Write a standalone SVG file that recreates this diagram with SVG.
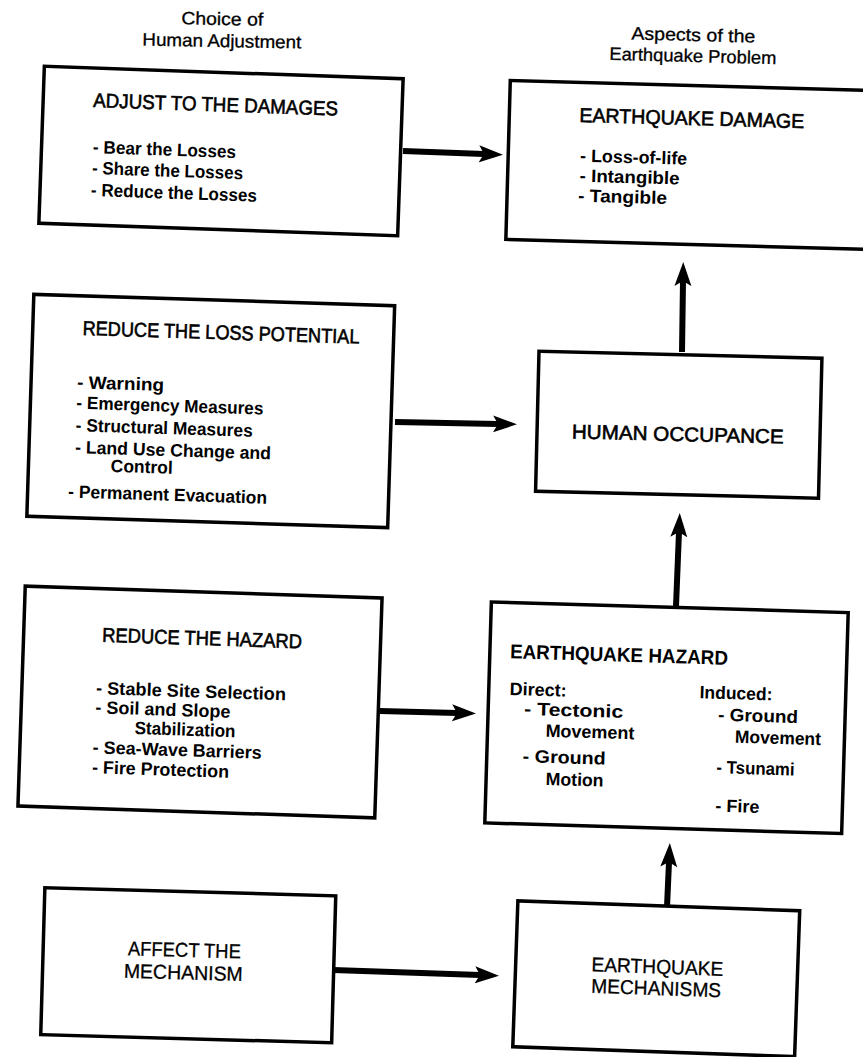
<svg xmlns="http://www.w3.org/2000/svg" width="863" height="1057" viewBox="0 0 863 1057">
<style>
.box{fill:#fff;stroke:#000;stroke-width:3.5}
text{font-family:'Liberation Sans',Arial,sans-serif;fill:#000}
.h{font-size:18px;stroke:#000;stroke-width:0.3}
.t{font-size:20px;stroke:#000;stroke-width:0.6}
.tl{font-size:20px;stroke:#000;stroke-width:0.3}
.tb{font-size:20px;font-weight:bold}
.i{font-size:18px;font-weight:bold}
.c{fill:none;stroke:#000;stroke-width:6}
</style>
<defs>
<marker id="ah" markerUnits="userSpaceOnUse" markerWidth="26" markerHeight="20" viewBox="0 -10 26 20" refX="5" refY="0" orient="auto">
<path d="M0,-8.5 L24,0 L0,8.5 L5,0 Z" fill="#000"/>
</marker>
</defs>
<rect width="863" height="1057" fill="#fff"/>

<g id="headers">
<g transform="rotate(1 222 35)">
<text class="h" x="222" y="25" text-anchor="middle" textLength="82" lengthAdjust="spacingAndGlyphs">Choice of</text>
<text class="h" x="222" y="47" text-anchor="middle" textLength="159" lengthAdjust="spacingAndGlyphs">Human Adjustment</text>
</g>
<g transform="rotate(1.5 693 50)">
<text class="h" x="693" y="41" text-anchor="middle" textLength="124" lengthAdjust="spacingAndGlyphs">Aspects of the</text>
<text class="h" x="693" y="62" text-anchor="middle" textLength="167" lengthAdjust="spacingAndGlyphs">Earthquake Problem</text>
</g>
</g>

<g id="connectors">
<line class="c" x1="403" y1="151" x2="484" y2="154" marker-end="url(#ah)"/>
<line class="c" x1="395" y1="422" x2="498" y2="424" marker-end="url(#ah)"/>
<line class="c" x1="380" y1="711" x2="457" y2="713" marker-end="url(#ah)"/>
<line class="c" x1="333" y1="970" x2="480" y2="975" marker-end="url(#ah)"/>
<line class="c" x1="682" y1="352" x2="683" y2="281" marker-end="url(#ah)"/>
<line class="c" x1="676" y1="606" x2="679" y2="532" marker-end="url(#ah)"/>
<line class="c" x1="667" y1="907" x2="669" y2="862" marker-end="url(#ah)"/>
</g>

<g id="adjust-damages" transform="rotate(2 221 151)">
<rect class="box" x="41.5" y="72.5" width="359" height="157"/>
<text class="t" x="91.5" y="111.5" textLength="245" lengthAdjust="spacingAndGlyphs">ADJUST TO THE DAMAGES</text>
<text class="i" x="93" y="157.5" textLength="143" lengthAdjust="spacingAndGlyphs">- Bear the Losses</text>
<text class="i" x="92.8" y="178.5" textLength="151" lengthAdjust="spacingAndGlyphs">- Share the Losses</text>
<text class="i" x="92.5" y="200.5" textLength="166" lengthAdjust="spacingAndGlyphs">- Reduce the Losses</text>
</g>

<g id="earthquake-damage" transform="rotate(1.6 690 165)">
<rect class="box" x="508" y="85.5" width="364" height="159"/>
<text class="t" x="578" y="125" textLength="225" lengthAdjust="spacingAndGlyphs">EARTHQUAKE DAMAGE</text>
<text class="i" x="580" y="164.8" textLength="107" lengthAdjust="spacingAndGlyphs">- Loss-of-life</text>
<text class="i" x="580" y="184.8" textLength="100" lengthAdjust="spacingAndGlyphs">- Intangible</text>
<text class="i" x="579" y="204.8" textLength="89" lengthAdjust="spacingAndGlyphs">- Tangible</text>
</g>

<g id="reduce-loss" transform="rotate(1.8 210.75 411)">
<rect class="box" x="30.25" y="300" width="361" height="222"/>
<text class="t" x="80.1" y="339" textLength="277" lengthAdjust="spacingAndGlyphs">REDUCE THE LOSS POTENTIAL</text>
<text class="i" x="76.3" y="392.5" textLength="87" lengthAdjust="spacingAndGlyphs">- Warning</text>
<text class="i" x="76.3" y="413" textLength="187" lengthAdjust="spacingAndGlyphs">- Emergency Measures</text>
<text class="i" x="76.3" y="435.5" textLength="177" lengthAdjust="spacingAndGlyphs">- Structural Measures</text>
<text class="i" x="76.3" y="457.5" textLength="196" lengthAdjust="spacingAndGlyphs">- Land Use Change and</text>
<text class="i" x="112.5" y="475" textLength="62" lengthAdjust="spacingAndGlyphs">Control</text>
<text class="i" x="70.8" y="502" textLength="199" lengthAdjust="spacingAndGlyphs">- Permanent Evacuation</text>
</g>

<g id="human-occupance" transform="rotate(1.4 678.75 424.75)">
<rect class="box" x="537.25" y="354.75" width="283" height="140"/>
<text class="t" x="678" y="441" text-anchor="middle" textLength="212" lengthAdjust="spacingAndGlyphs">HUMAN OCCUPANCE</text>
</g>

<g id="reduce-hazard" transform="rotate(1.9 200 702)">
<rect class="box" x="21.5" y="592" width="357" height="220"/>
<text class="t" x="100" y="645" textLength="200" lengthAdjust="spacingAndGlyphs">REDUCE THE HAZARD</text>
<text class="i" x="95.7" y="697.5" textLength="190" lengthAdjust="spacingAndGlyphs">- Stable Site Selection</text>
<text class="i" x="95.7" y="716.8" textLength="135" lengthAdjust="spacingAndGlyphs">- Soil and Slope</text>
<text class="i" x="135.5" y="736.1" textLength="101" lengthAdjust="spacingAndGlyphs">Stabilization</text>
<text class="i" x="94.3" y="756.8" textLength="169" lengthAdjust="spacingAndGlyphs">- Sea-Wave Barriers</text>
<text class="i" x="94.3" y="776.8" textLength="137" lengthAdjust="spacingAndGlyphs">- Fire Protection</text>
</g>

<g id="earthquake-hazard" transform="rotate(1.7 666.5 717.75)">
<rect class="box" x="488" y="607.25" width="357" height="221"/>
<text class="tb" x="508.2" y="663" textLength="218" lengthAdjust="spacingAndGlyphs">EARTHQUAKE HAZARD</text>
<text class="i" x="509" y="699.6" textLength="57" lengthAdjust="spacingAndGlyphs">Direct:</text>
<text class="i" x="524" y="719.2" textLength="99" lengthAdjust="spacingAndGlyphs">- Tectonic</text>
<text class="i" x="546" y="740.3" textLength="89" lengthAdjust="spacingAndGlyphs">Movement</text>
<text class="i" x="524" y="766.5" textLength="83" lengthAdjust="spacingAndGlyphs">- Ground</text>
<text class="i" x="547.5" y="788.5" textLength="58" lengthAdjust="spacingAndGlyphs">Motion</text>
<text class="i" x="698.8" y="697.3" textLength="73" lengthAdjust="spacingAndGlyphs">Induced:</text>
<text class="i" x="718" y="719.2" textLength="80" lengthAdjust="spacingAndGlyphs">- Ground</text>
<text class="i" x="735.5" y="740.6" textLength="86" lengthAdjust="spacingAndGlyphs">Movement</text>
<text class="i" x="718" y="771.8" textLength="78" lengthAdjust="spacingAndGlyphs">- Tsunami</text>
<text class="i" x="718" y="810.2" textLength="44" lengthAdjust="spacingAndGlyphs">- Fire</text>
</g>

<g id="affect-mechanism" transform="rotate(1.6 188.25 965.25)">
<rect class="box" x="42.75" y="891.75" width="291" height="147"/>
<text class="tl" x="184" y="957" text-anchor="middle" textLength="113" lengthAdjust="spacingAndGlyphs">AFFECT THE</text>
<text class="tl" x="183.5" y="979.5" text-anchor="middle" textLength="119" lengthAdjust="spacingAndGlyphs">MECHANISM</text>
</g>

<g id="earthquake-mechanisms" transform="rotate(2 656.25 978.75)">
<rect class="box" x="515.25" y="905.75" width="282" height="146"/>
<text class="tl" x="657" y="973.5" text-anchor="middle" textLength="132" lengthAdjust="spacingAndGlyphs">EARTHQUAKE</text>
<text class="tl" x="656.5" y="995" text-anchor="middle" textLength="130" lengthAdjust="spacingAndGlyphs">MECHANISMS</text>
</g>
</svg>
